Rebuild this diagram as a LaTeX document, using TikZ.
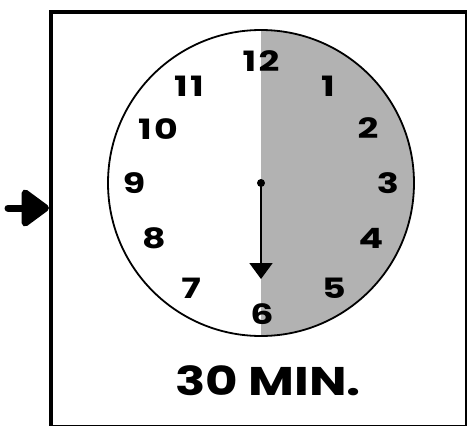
\documentclass[tikz,border=0pt]{standalone}
\usepackage{fontspec}
\setmainfont{Poppins}
\newfontfamily\dialfont[LetterSpace=6]{Poppins}
\usetikzlibrary{arrows.meta}
\definecolor{halfgray}{HTML}{B2B2B2}
\tikzset{hour/.style={font=\dialfont\fontsize{28}{28}\selectfont\bfseries,inner sep=0pt,xscale=1.3},caption/.style={font=\fontsize{40}{40}\selectfont\bfseries,inner sep=0pt,xscale=1.25},hand/.style={line width=2pt,-{Triangle[width=23pt,length=16pt]}},feed/.style={line width=7pt,-{Triangle[width=42pt,length=30pt,round]}},every picture/.style={line cap=round}}
\begin{document}
\begin{tikzpicture}[x=1pt,y=-1pt]
\useasboundingbox (0,0) rectangle (467,426);
\node[draw,line width=4pt,minimum width=416pt,minimum height=415pt,inner sep=0pt,anchor=north west] (frame) at (49,9.5) {};
\coordinate (ctr) at (261,183);
\begin{scope}
\clip (261,0) rectangle (467,426);
\fill[halfgray] (ctr) circle[radius=153];
\end{scope}
\node[draw,circle,line width=1.8pt,minimum size=306pt,inner sep=0pt] (face) at (ctr) {};
\foreach \n/\x/\y in {12/261/61,1/328/86,2/368/128,3/388/183,4/371/238,5/334/288,6/262/314,7/191/288,8/154/238,9/134/183,10/158/129,11/189/86}{
\node[hour] (h\n) at (\x,\y) {\n};
}
\coordinate (tip) at (261,279);
\fill (ctr) circle[radius=4];
\draw[hand] (ctr) -- (tip);
\coordinate (in) at (8,208);
\draw[feed] (in) -- (frame.west|-in);
\node[caption] (label) at (268,381) {30 MIN.};
\end{tikzpicture}
\end{document}
